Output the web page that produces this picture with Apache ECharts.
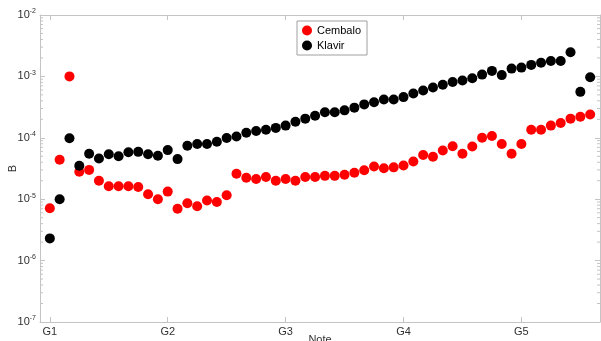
<!DOCTYPE html>
<html><head><meta charset="utf-8">
<script src="https://cdn.jsdelivr.net/npm/echarts@6/dist/echarts.min.js"></script>
<style>html,body{margin:0;padding:0;background:#fff}#c{width:601px;height:341px}</style>
</head><body><div id="c"></div>
<script>
// Chromatic notes starting from G1 (index 0)
var notes = ['G1','G#1','A1','A#1','B1','C2','C#2','D2','D#2','E2','F2','F#2',
  'G2','G#2','A2','A#2','B2','C3','C#3','D3','D#3','E3','F3','F#3',
  'G3','G#3','A3','A#3','B3','C4','C#4','D4','D#4','E4','F4','F#4',
  'G4','G#4','A4','A#4','B4','C5','C#5','D5','D#5','E5','F5','F#5',
  'G5','G#5','A5','A#5','B5','C6','C#6','D6'];
var tickNotes = ['G1','G2','G3','G4','G5'];
var cembalo = [7.1e-6,4.4e-5,1.0e-3,2.8e-5,3.0e-5,2.0e-5,1.62e-5,1.62e-5,1.62e-5,1.58e-5,1.2e-5,1.0e-5,
  1.33e-5,7.0e-6,8.6e-6,7.7e-6,9.5e-6,9.0e-6,1.16e-5,2.6e-5,2.24e-5,2.13e-5,2.3e-5,2.0e-5,
  2.13e-5,2.0e-5,2.3e-5,2.3e-5,2.4e-5,2.4e-5,2.5e-5,2.7e-5,2.96e-5,3.4e-5,3.2e-5,3.3e-5,
  3.55e-5,4.1e-5,5.25e-5,4.9e-5,6.2e-5,7.3e-5,5.5e-5,7.2e-5,1.0e-4,1.07e-4,7.9e-5,5.5e-5,
  7.9e-5,1.35e-4,1.35e-4,1.58e-4,1.74e-4,2.05e-4,2.2e-4,2.4e-4];
var klavir = [2.3e-6,1.0e-5,9.8e-5,3.5e-5,5.5e-5,4.6e-5,5.4e-5,5.0e-5,5.8e-5,5.9e-5,5.4e-5,5.1e-5,
  6.3e-5,4.5e-5,7.4e-5,7.9e-5,7.9e-5,8.6e-5,9.9e-5,1.05e-4,1.21e-4,1.29e-4,1.35e-4,1.45e-4,
  1.58e-4,1.82e-4,2.05e-4,2.28e-4,2.6e-4,2.6e-4,2.8e-4,3.1e-4,3.5e-4,3.8e-4,4.2e-4,4.2e-4,
  4.6e-4,5.25e-4,5.9e-4,6.6e-4,7.3e-4,8.1e-4,8.6e-4,9.3e-4,1.07e-3,1.23e-3,1.05e-3,1.34e-3,
  1.39e-3,1.54e-3,1.67e-3,1.78e-3,1.78e-3,2.47e-3,5.6e-4,9.7e-4];
var yExponents = [-7,-6,-5,-4,-3,-2];

function pts(arr){ return arr.map(function(v,i){ return [i, v]; }); }
var tickIdx = tickNotes.map(function(n){ return notes.indexOf(n); });
var minorVals = [];
for (var e = yExponents[0]; e < yExponents[yExponents.length-1]; e++) {
  for (var m = 2; m <= 9; m++) minorVals.push(m * Math.pow(10, e));
}
var axisCol = '#c4c4c4', txtCol = '#303030';
var chart = echarts.init(document.getElementById('c'), null, {renderer:'canvas'});
var xCommon = {
  type:'value', min:-1, max:56,
  axisLine:{show:true, onZero:false, lineStyle:{color:axisCol}},
  axisTick:{show:true, inside:true, length:5, customValues:tickIdx, lineStyle:{color:axisCol}},
  splitLine:{show:false}
};
var yCommon = {
  type:'log', logBase:10, min:1e-7, max:1e-2,
  axisLine:{show:true, onZero:false, lineStyle:{color:axisCol}},
  axisTick:{show:true, inside:true, length:5, lineStyle:{color:axisCol}},
  splitLine:{show:false}
};
chart.setOption({
  animation:false,
  grid:{left:40, right:1, top:15, bottom:19, containLabel:false, outerBoundsMode:'none'},
  legend:{
    orient:'vertical', left:297, top:21, itemWidth:10, itemHeight:10, itemGap:4,
    padding:[4,6,4,5], borderColor:'#a0a0a0', borderWidth:1, backgroundColor:'#fff',
    textStyle:{fontFamily:'Liberation Sans', fontSize:11, color:'#000'},
    data:[{name:'Cembalo', icon:'circle'},{name:'Klavir', icon:'circle'}]
  },
  xAxis:[
    Object.assign({}, xCommon, {
      position:'bottom', name:'Note', nameLocation:'middle', nameGap:12, nameMoveOverlap:false,
      nameTextStyle:{fontFamily:'Liberation Sans', fontSize:11, color:txtCol, verticalAlign:'top'},
      axisLabel:{show:true, customValues:tickIdx, margin:4, color:txtCol,
        fontFamily:'Liberation Sans', fontSize:11,
        formatter:function(v){ return notes[Math.round(v)] || ''; }}
    }),
    Object.assign({}, xCommon, {position:'top', axisLabel:{show:false}})
  ],
  yAxis:[
    Object.assign({}, yCommon, {
      position:'left', name:'B', nameLocation:'middle', nameGap:22, nameMoveOverlap:false,
      nameTextStyle:{fontFamily:'Liberation Sans', fontSize:11, color:txtCol},
      axisLabel:{show:true, margin:4, color:txtCol, fontFamily:'Liberation Sans',
        formatter:function(v){ var e = Math.round(Math.log10(v)); return '{b|10}{s|' + e + '}'; },
        rich:{b:{fontSize:11, color:txtCol, fontFamily:'Liberation Sans'},
              s:{fontSize:7, color:txtCol, fontFamily:'Liberation Sans', padding:[0,0,7,0]}}}
    }),
    Object.assign({}, yCommon, {position:'right', axisLabel:{show:false}})
  ],
  series:[
    {name:'Cembalo', type:'scatter', symbol:'circle', symbolSize:10, data:pts(cembalo),
     itemStyle:{color:'#ff0000', opacity:1}, z:3},
    {name:'Klavir', type:'scatter', symbol:'circle', symbolSize:10, data:pts(klavir),
     itemStyle:{color:'#000000', opacity:1}, z:3},
    {type:'custom', silent:true, data:minorVals.map(function(v){ return [v]; }), z:1,
     renderItem:function(params, api){
       var yv = api.value(0);
       var pL = api.coord([-1, yv]), pR = api.coord([56, yv]);
       return {type:'group', children:[
         {type:'line', shape:{x1:pL[0], y1:pL[1], x2:pL[0]+3, y2:pL[1]}, style:{stroke:axisCol, lineWidth:1}},
         {type:'line', shape:{x1:pR[0], y1:pR[1], x2:pR[0]-3, y2:pR[1]}, style:{stroke:axisCol, lineWidth:1}}
       ]};
     },
     encode:{y:0}}
  ]
});
</script></body></html>
